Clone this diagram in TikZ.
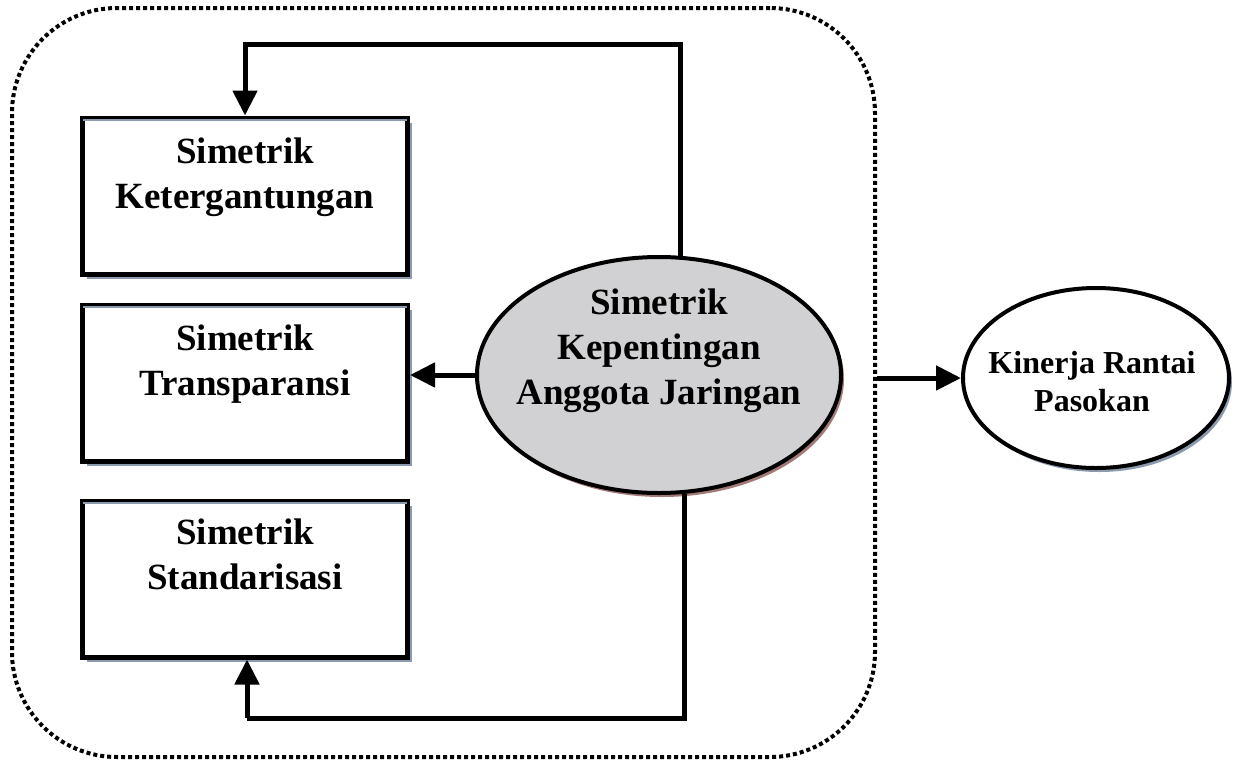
\documentclass[tikz,border=0pt]{standalone}
\usepackage{fontspec}
\setmainfont{Liberation Serif}
\usetikzlibrary{arrows.meta,shapes.geometric,shadows}
\definecolor{slate}{HTML}{8C9AAE}
\definecolor{rose}{HTML}{A27A78}
\definecolor{ellgray}{HTML}{D1D0D2}
\tikzset{
  frame/.style={draw, line width=4pt, dash pattern=on 4pt off 3pt, rounded corners=105pt,
    minimum width=863pt, minimum height=749pt, inner sep=0pt},
  boxshape/.style={draw, line width=5pt, fill=white, minimum width=325pt, minimum height=156pt,
    inner sep=0pt, drop shadow={shadow xshift=4pt, shadow yshift=-5pt, fill=slate, opacity=1}},
  innerline/.style={slate, line width=2pt},
  bigtext/.style={font=\bfseries\fontsize{37}{45}\selectfont, align=center, inner sep=0pt},
  conn/.style={line width=5pt, -{Triangle[width=24pt,length=25pt]}},
  plain/.style={line width=5pt},
}
\begin{document}
\begin{tikzpicture}[x=1pt,y=-1pt]
\useasboundingbox (0,0) rectangle (1240,769);
\node[frame] (frame) at (443.5,382.5) {};
% boxes
\node[boxshape] (box1) at (245,196) {};
\node[boxshape] (box2) at (245,383) {};
\node[boxshape] (box3) at (245,579) {};
\foreach \b in {box1,box2,box3}{
  \draw[innerline] ([xshift=3pt,yshift=-4pt]\b.north west) -- ([xshift=-3pt,yshift=-4pt]\b.north east);
}
\node[bigtext, anchor=north] (t1) at ([yshift=-22pt]box1.north) {Simetrik\\Ketergantungan};
\node[bigtext, anchor=north] (t2) at ([yshift=-22pt]box2.north) {Simetrik\\Transparansi};
\node[bigtext, anchor=north] (t3) at ([yshift=-20pt]box3.north) {Simetrik\\Standarisasi};
% central ellipse
\node[ellipse, draw, line width=4pt, fill=ellgray, minimum width=364pt, minimum height=236pt, inner sep=0pt,
  drop shadow={shadow xshift=3pt, shadow yshift=-4pt, fill=rose, opacity=1}] (ell) at (659,375) {};
\node[bigtext, anchor=north] (te) at (659,289) {Simetrik\\Kepentingan\\Anggota Jaringan};
% outcome ellipse
\node[ellipse, draw, line width=4pt, fill=white, minimum width=266pt, minimum height=180pt, inner sep=0pt,
  drop shadow={shadow xshift=3pt, shadow yshift=-4pt, fill=slate, opacity=1}] (kin) at (1096,378) {};
\node[align=center, inner sep=0pt, font=\bfseries\fontsize{32}{38}\selectfont] (tk) at (1092,382)
  {Kinerja Rantai\\Pasokan};
% connectors
\coordinate (tr) at (680,44);
\coordinate (bl) at (247,718);
\draw[plain] (ell.80) |- (tr);
\draw[conn] (tr) -| (box1.north);
\draw[plain] (ell.-78) |- (bl);
\draw[conn] (bl) -- (bl |- box3.south);
\draw[conn] (ell.west) -- (ell.west -| box2.east);
\draw[conn] (frame.east |- kin.west) -- (kin.west);
\end{tikzpicture}
\end{document}
